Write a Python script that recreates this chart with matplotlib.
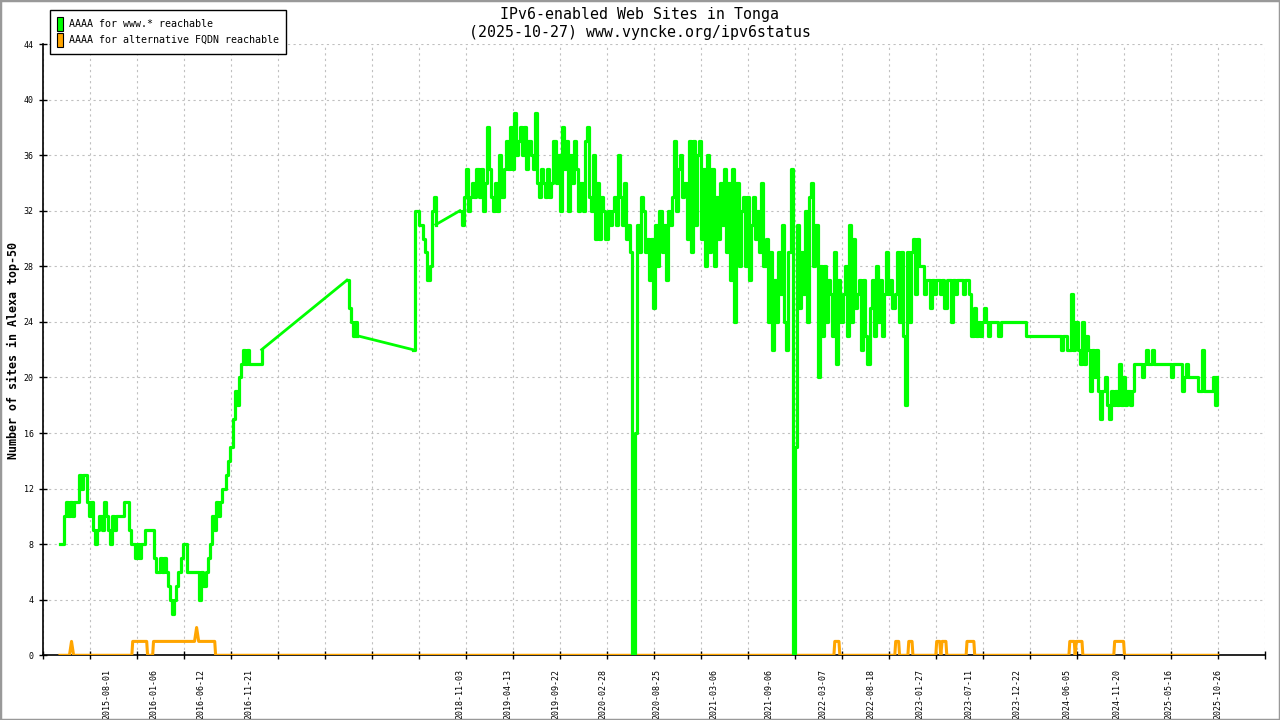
import numpy as np
import pandas as pd
import matplotlib
matplotlib.use('Agg')
import matplotlib.pyplot as plt
import matplotlib.dates as mdates
from matplotlib.patches import Patch, Rectangle

# ---- data: AAAA for www.* (weekly samples, in segments; gaps are drawn as straight lines)
seg1_start = '2015-02-25'
seg1_vals = [8, 8, 10, 11, 10, 11, 10, 11, 11, 13,
             12, 13, 13, 11, 10, 11, 9, 8, 9, 10,
             9, 11, 10, 9, 8, 10, 9, 10, 10, 10,
             10, 11, 11, 9, 8, 8, 7, 8, 7, 8,
             8, 9, 9, 9, 9, 7, 6, 6, 7, 6,
             7, 6, 5, 4, 3, 4, 5, 6, 7, 8,
             8, 6, 6, 6, 6, 6, 6, 4, 6, 5,
             6, 7, 8, 10, 9, 11, 10, 11, 12, 12,
             13, 14, 15, 17, 19, 18, 20, 21, 22, 21,
             22, 21, 21, 21, 21, 21, 21, 22]

seg2_start = '2017-10-18'
seg2_vals = [27, 25, 24, 23, 24, 23]

seg3_start = '2018-05-28'
seg3_vals = [22, 32, 32, 31, 31, 30, 29, 27, 28, 32, 33, 31]

seg4_start = '2018-11-02'
seg4_vals = [32, 31, 33, 35, 32, 33, 34, 33, 35, 33,
             35, 32, 34, 38, 35, 33, 32, 34, 32, 36,
             33, 35, 37, 35, 38, 35, 39, 36, 37, 38,
             36, 38, 35, 37, 36, 35, 39, 34, 33, 35,
             34, 33, 35, 33, 34, 37, 34, 36, 32, 38,
             35, 37, 32, 36, 34, 37, 35, 32, 34, 32,
             37, 38, 33, 32, 36, 30, 34, 30, 33, 32,
             30, 32, 31, 32, 33, 31, 36, 33, 31, 34,
             30, 31, 29, 0, 16, 31, 29, 33, 32, 29,
             30, 27, 30, 25, 31, 28, 32, 29, 31, 27,
             32, 31, 33, 37, 32, 35, 36, 33, 34, 30,
             37, 29, 37, 31, 36, 37, 30, 35, 28, 36,
             29, 35, 28, 33, 30, 34, 31, 35, 29, 34,
             27, 35, 24, 34, 28, 32, 33, 28, 33, 27,
             31, 33, 30, 32, 29, 34, 28, 30, 24, 29,
             22, 27, 24, 29, 26, 31, 24, 22, 29, 35,
             0, 15, 31, 25, 29, 26, 32, 24, 33, 34,
             28, 31, 20, 28, 23, 28, 24, 27, 26, 23,
             29, 21, 27, 24, 26, 28, 23, 31, 24, 30,
             25, 26, 27, 22, 27, 23, 21, 25, 27, 23,
             28, 24, 27, 23, 26, 29, 26, 27, 25, 26,
             29, 24, 29, 23, 18, 29, 24, 29, 30, 26,
             30, 28, 28, 26, 27, 27, 25, 27, 26, 27,
             27, 26, 27, 25, 27, 27, 24, 27, 26, 27,
             27, 27, 26, 27, 27, 26, 23, 25, 23, 24,
             23, 24, 25, 24, 23, 24, 24, 24, 24, 23,
             24, 24, 24, 24, 24, 24, 24, 24, 24, 24,
             24, 24, 23, 23, 23, 23, 23, 23, 23, 23,
             23, 23, 23, 23, 23, 23, 23, 23, 23, 22,
             23, 23, 22, 22, 26, 22, 24, 22, 21, 24,
             21, 23, 22, 19, 22, 20, 22, 19, 17, 19,
             20, 18, 17, 19, 18, 19, 18, 21, 18, 20,
             18, 19, 18, 19, 21, 21, 21, 21, 20, 21,
             22, 21, 21, 22, 21, 21, 21, 21, 21, 21,
             21, 21, 20, 21, 21, 21, 21, 19, 20, 21,
             20, 20, 20, 20, 20, 19, 19, 22, 19, 19,
             19, 19, 20, 18, 20]

# ---- data: AAAA for alternative FQDN
alt_dates = ['2015-02-25', '2015-03-29', '2015-04-05', '2015-04-12',
             '2015-10-25', '2015-10-28', '2015-12-14', '2015-12-17',
             '2016-01-03', '2016-01-06', '2016-05-23', '2016-05-30',
             '2016-06-06', '2016-07-30', '2016-08-02',
             '2022-04-14', '2022-04-17', '2022-05-01', '2022-05-04',
             '2022-11-05', '2022-11-08', '2022-11-18', '2022-11-21',
             '2022-12-19', '2022-12-22', '2023-01-02', '2023-01-05',
             '2023-03-23', '2023-03-26', '2023-04-05', '2023-04-09',
             '2023-04-13', '2023-04-26', '2023-04-29',
             '2023-07-03', '2023-07-06', '2023-07-29', '2023-08-01',
             '2024-06-13', '2024-06-16', '2024-07-01', '2024-07-04',
             '2024-07-08', '2024-07-27', '2024-07-30',
             '2024-11-11', '2024-11-14', '2024-12-14', '2024-12-17',
             '2025-10-27']
alt_vals = [0, 0, 1, 0,
            0, 1, 1, 0,
            0, 1, 1, 2,
            1, 1, 0,
            0, 1, 1, 0,
            0, 1, 1, 0,
            0, 1, 1, 0,
            0, 1, 1, 0,
            1, 1, 0,
            0, 1, 1, 0,
            0, 1, 1, 0,
            1, 1, 0,
            0, 1, 1, 0,
            0]

label_dates = ['2015-08-01', '2016-01-06', '2016-06-12', '2016-11-21',
               '2018-11-03', '2019-04-13', '2019-09-22', '2020-02-28',
               '2020-08-25', '2021-03-06', '2021-09-06', '2022-03-07',
               '2022-08-18', '2023-01-27', '2023-07-11', '2023-12-22',
               '2024-06-05', '2024-11-20', '2025-05-16', '2025-10-26']


def weekly(start, vals):
    return pd.date_range(start, periods=len(vals), freq='7D')


segments = [(seg1_start, seg1_vals), (seg2_start, seg2_vals),
            (seg3_start, seg3_vals), (seg4_start, seg4_vals)]

plt.rcParams['font.family'] = ['DejaVu Sans Mono', 'DejaVu Sans']

fig = plt.figure(figsize=(12.8, 7.2), dpi=100)
ax = fig.add_axes([43.3 / 1280, 1 - 655.3 / 720, (1265.3 - 43.3) / 1280, (655.3 - 44) / 720])

green = '#00ff00'
orange = '#ffa500'
ax.plot(pd.to_datetime(alt_dates), alt_vals, color=orange, lw=2.2, zorder=3)

# each run of samples is drawn as steps, the missing periods as straight joins
prev = None
for start, vals in segments:
    d = weekly(start, vals)
    ax.plot(d, vals, color=green, lw=2.3, drawstyle='steps-post', zorder=4)
    if prev is not None:
        ax.plot([prev[0], d[0]], [prev[1], vals[0]], color=green, lw=2.0, zorder=4)
    prev = (d[-1], vals[-1])

x0, x1 = pd.Timestamp('2014-12-31'), pd.Timestamp('2026-04-05')
ax.set_xlim(x0, x1)
ax.set_ylim(0, 44)
ax.set_yticks(range(0, 45, 4))

ax.set_xticks(pd.to_datetime(label_dates))
ax.set_xticklabels(label_dates, rotation=90, fontsize=6, va='top', ha='center')
ax.tick_params(axis='x', which='major', length=0, pad=10)
lo, hi = mdates.date2num(x0), mdates.date2num(x1)
ax.set_xticks(np.linspace(lo, hi, 27), minor=True)
ax.tick_params(axis='x', which='minor', direction='inout', length=6, width=1)
ax.tick_params(axis='y', direction='inout', length=6, width=1, labelsize=6, pad=4)

for side in ['top', 'right']:
    ax.spines[side].set_visible(False)
ax.spines['left'].set_linewidth(1.2)
ax.spines['bottom'].set_linewidth(1.2)

ax.grid(axis='y', which='major', color='#c0c0c0', ls=(0, (2, 3)), lw=0.8)
ax.grid(axis='x', which='minor', color='#c0c0c0', ls=(0, (2, 3)), lw=0.8)
ax.set_axisbelow(True)

fig.text(0.5, 1 - 14 / 720, 'IPv6-enabled Web Sites in Tonga', ha='center', va='center', fontsize=10.7)
fig.text(0.5, 1 - 33 / 720, '(2025-10-27) www.vyncke.org/ipv6status', ha='center', va='center', fontsize=10.7)
fig.text(13 / 1280, 1 - 350 / 720, 'Number of sites in Alexa top-50', rotation=90,
         ha='center', va='center', fontsize=8.4, fontweight='bold')

handles = [Patch(facecolor=green, edgecolor='black', lw=0.8),
           Patch(facecolor=orange, edgecolor='black', lw=0.8)]
leg = fig.legend(handles, ['AAAA for www.* reachable', 'AAAA for alternative FQDN reachable'],
                 loc='upper left', bbox_to_anchor=(50 / 1280, 1 - 10 / 720), fontsize=7.2,
                 frameon=True, fancybox=False, edgecolor='black', framealpha=1,
                 handlelength=0.6, handleheight=1.8, handletextpad=0.6,
                 labelspacing=0.15, borderpad=0.7, borderaxespad=0)
leg.get_frame().set_linewidth(1.0)

fig.add_artist(Rectangle((0, 0), 1, 1, transform=fig.transFigure, fill=False,
                         edgecolor='#999999', lw=2.5))

fig.savefig('out.png', dpi=100)
